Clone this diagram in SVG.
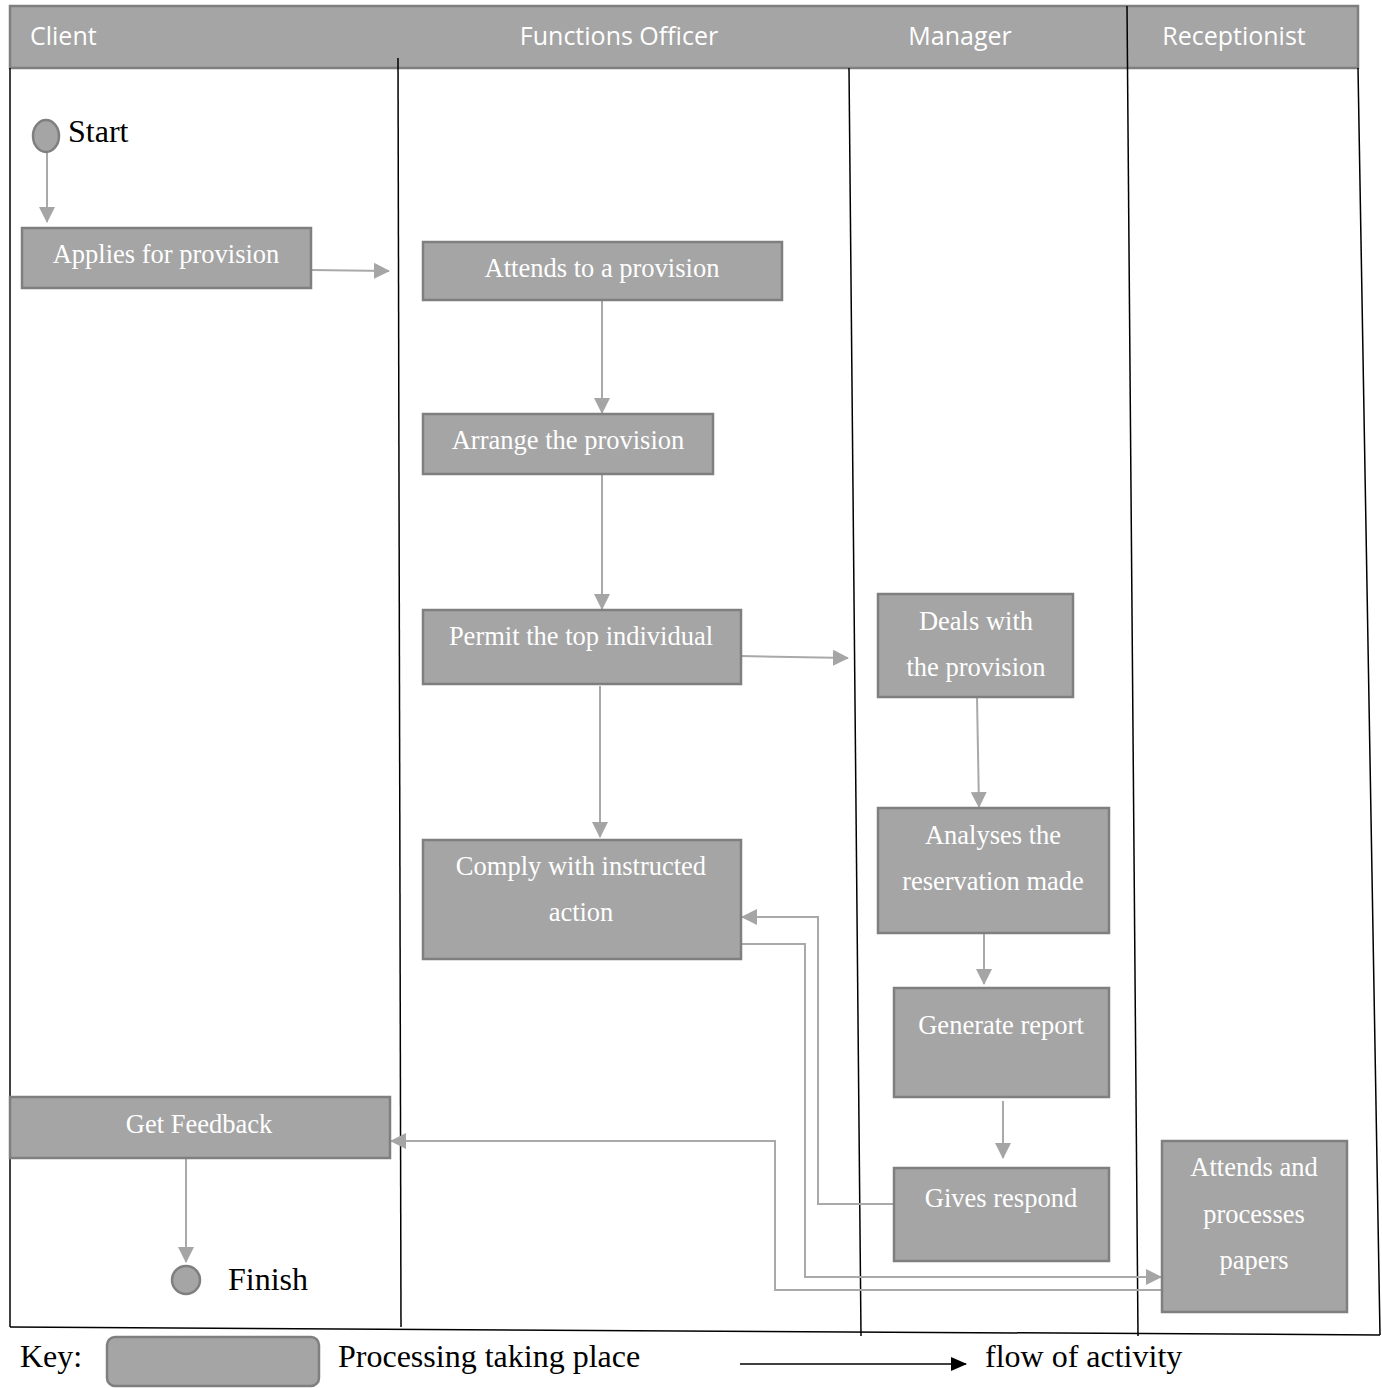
<svg xmlns="http://www.w3.org/2000/svg" width="1382" height="1388" viewBox="0 0 1382 1388">
  <style>
    .box { fill: #a5a5a5; stroke: #7f7f7f; stroke-width: 2.5; }
    .lbl { font-family: "Liberation Serif", "Times New Roman", serif; font-size: 26.5px; fill: #ffffff; text-anchor: middle; }
    .head { font-family: "Open Sans", "Noto Sans", sans-serif; font-size: 25px; fill: #ffffff; }
    .black { font-family: "Liberation Serif", "Times New Roman", serif; fill: #000000; }
    .lane { stroke: #000000; stroke-width: 1.5; fill: none; }
    .flow { stroke: #a9a9a9; stroke-width: 2; fill: none; marker-end: url(#tri); }
  </style>
  <defs>
    <marker id="tri" viewBox="0 0 16 16" refX="15" refY="8" markerWidth="16" markerHeight="16" markerUnits="userSpaceOnUse" orient="auto">
      <path d="M0,0 L16,8 L0,16 Z" fill="#a5a5a5"/>
    </marker>
    <marker id="triBlack" viewBox="0 0 16 16" refX="15" refY="8" markerWidth="16" markerHeight="16" markerUnits="userSpaceOnUse" orient="auto">
      <path d="M0,1 L16,8 L0,15 Z" fill="#000000"/>
    </marker>
  </defs>

  <rect width="1382" height="1388" fill="#ffffff"/>

  <!-- swimlane header -->
  <g id="header">
    <rect x="10" y="6" width="1348" height="62" class="box"/>
    <text x="30" y="45" class="head">Client</text>
    <text x="619" y="45" class="head" text-anchor="middle">Functions Officer</text>
    <text x="960" y="45" class="head" text-anchor="middle">Manager</text>
    <text x="1234" y="45" class="head" text-anchor="middle">Receptionist</text>
  </g>

  <!-- lane borders -->
  <g id="lanes">
    <line x1="10" y1="68" x2="10" y2="1327" class="lane"/>
    <line x1="398" y1="58" x2="401" y2="1327" class="lane"/>
    <line x1="849" y1="68" x2="861" y2="1336" class="lane"/>
    <line x1="1127" y1="6" x2="1138" y2="1336" class="lane"/>
    <line x1="1358" y1="68" x2="1380" y2="1335" class="lane"/>
    <line x1="10" y1="1327" x2="1380" y2="1335" class="lane"/>
  </g>

  <!-- connectors -->
  <g id="connectors">
    <line x1="47" y1="152" x2="47" y2="222" class="flow"/>
    <line x1="311" y1="270" x2="389" y2="271" class="flow"/>
    <line x1="602" y1="300" x2="602" y2="413" class="flow"/>
    <line x1="602" y1="474" x2="602" y2="609" class="flow"/>
    <line x1="741" y1="656" x2="848" y2="658" class="flow"/>
    <line x1="600" y1="686" x2="600" y2="837" class="flow"/>
    <line x1="977" y1="697" x2="979" y2="807" class="flow"/>
    <line x1="984" y1="933" x2="984" y2="984" class="flow"/>
    <line x1="1003" y1="1101" x2="1003" y2="1158" class="flow"/>
    <polyline points="894,1204 818,1204 818,917 742,917" class="flow"/>
    <polyline points="741,944 805,944 805,1277 1161,1277" class="flow"/>
    <polyline points="1162,1290 775,1290 775,1141 391,1141" class="flow"/>
    <line x1="186" y1="1158" x2="186" y2="1262" class="flow"/>
  </g>

  <!-- activities -->
  <g id="start">
    <ellipse cx="46" cy="136" rx="13" ry="16" class="box"/>
    <text x="68" y="142" class="black" font-size="32">Start</text>
  </g>
  <g id="applies">
    <rect x="22" y="228" width="289" height="60" class="box"/>
    <text x="166" y="263" class="lbl">Applies for provision</text>
  </g>
  <g id="attends">
    <rect x="423" y="242" width="359" height="58" class="box"/>
    <text x="602" y="277" class="lbl">Attends to a provision</text>
  </g>
  <g id="arrange">
    <rect x="423" y="414" width="290" height="60" class="box"/>
    <text x="568" y="449" class="lbl">Arrange the provision</text>
  </g>
  <g id="permit">
    <rect x="423" y="610" width="318" height="74" class="box"/>
    <text x="581" y="645" class="lbl">Permit the top individual</text>
  </g>
  <g id="comply">
    <rect x="423" y="840" width="318" height="119" class="box"/>
    <text x="581" y="875" class="lbl">Comply with instructed</text>
    <text x="581" y="921" class="lbl">action</text>
  </g>
  <g id="deals">
    <rect x="878" y="594" width="195" height="103" class="box"/>
    <text x="976" y="630" class="lbl">Deals with</text>
    <text x="976" y="676" class="lbl">the provision</text>
  </g>
  <g id="analyses">
    <rect x="878" y="808" width="231" height="125" class="box"/>
    <text x="993" y="844" class="lbl">Analyses the</text>
    <text x="993" y="890" class="lbl">reservation made</text>
  </g>
  <g id="generate">
    <rect x="894" y="988" width="215" height="109" class="box"/>
    <text x="1001" y="1034" class="lbl">Generate report</text>
  </g>
  <g id="gives">
    <rect x="894" y="1168" width="215" height="93" class="box"/>
    <text x="1001" y="1207" class="lbl">Gives respond</text>
  </g>
  <g id="papers">
    <rect x="1162" y="1141" width="185" height="171" class="box"/>
    <text x="1254" y="1176" class="lbl">Attends and</text>
    <text x="1254" y="1223" class="lbl">processes</text>
    <text x="1254" y="1269" class="lbl">papers</text>
  </g>
  <g id="feedback">
    <rect x="10" y="1097" width="380" height="61" class="box"/>
    <text x="199" y="1133" class="lbl">Get Feedback</text>
  </g>
  <g id="finish">
    <circle cx="186" cy="1280" r="14" class="box"/>
    <text x="228" y="1290" class="black" font-size="32">Finish</text>
  </g>

  <!-- legend -->
  <g id="key">
    <text x="20" y="1367" class="black" font-size="32">Key:</text>
    <rect x="107" y="1337" width="212" height="49" rx="8" class="box"/>
    <text x="338" y="1367" class="black" font-size="32">Processing taking place</text>
    <line x1="740" y1="1364" x2="966" y2="1364" stroke="#000000" stroke-width="1.5" marker-end="url(#triBlack)"/>
    <text x="985" y="1367" class="black" font-size="32">flow of activity</text>
  </g>
</svg>
